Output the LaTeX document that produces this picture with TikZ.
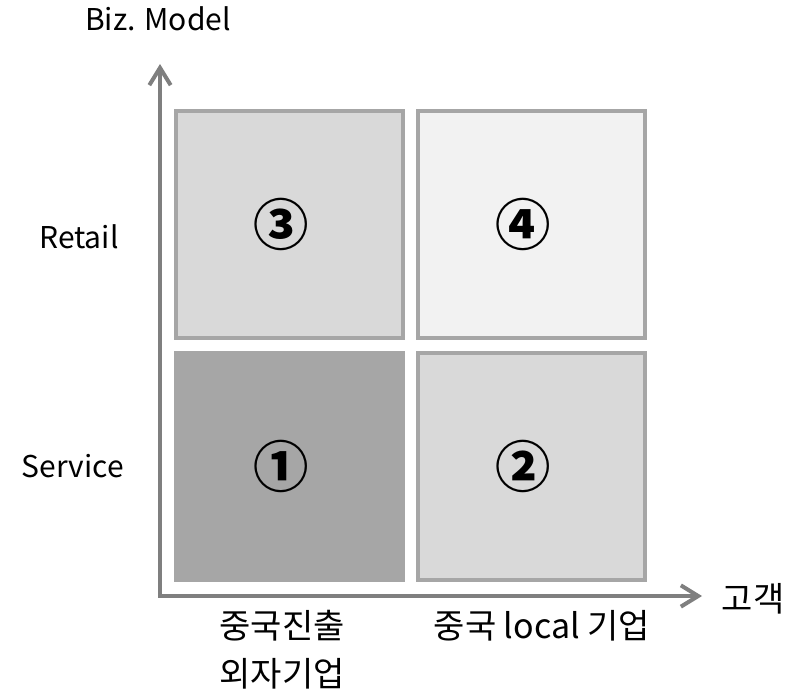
\documentclass[tikz,border=0pt]{standalone}
\usepackage{fontspec}
\setmainfont{Noto Sans CJK KR}
\usetikzlibrary{arrows.meta,positioning}

\definecolor{axisgray}{HTML}{7F7F7F}
\definecolor{edgegray}{HTML}{A6A6A6}
\definecolor{darkcell}{HTML}{A6A6A6}
\definecolor{midcell}{HTML}{D9D9D9}
\definecolor{lightcell}{HTML}{F2F2F2}

\tikzset{
  cell/.style={draw=edgegray, line width=3pt, minimum width=170.25pt,
    minimum height=170.25pt, inner sep=0pt},
  txt/.style={font=\fontsize{22.5}{27}\selectfont, inner sep=0pt, anchor=base},
  kortxt/.style={txt, font=\fontsize{25.5}{30}\selectfont},
  num/.style={font=\fontsize{41.5}{44}\selectfont\bfseries, inner sep=0pt},
  axis/.style={draw=axisgray, line width=3pt,
    {Straight Barb[length=13pt,width=16pt]}-{Straight Barb[length=13pt,width=16pt]}}
}

\begin{document}
\begin{tikzpicture}[x=0.75pt,y=-0.75pt]
  \useasboundingbox (0,0) rectangle (798,693);

  % the four quadrants
  \node[cell, fill=darkcell, draw=darkcell] (q1) at (289.5,466.5) {};
  \node[cell, fill=midcell, right=8.25pt of q1] (q2) {};
  \node[cell, fill=midcell, above=8.25pt of q1] (q3) {};
  \node[cell, fill=lightcell, right=8.25pt of q3] (q4) {};

  % circled numbers
  \foreach \q/\n in {q1/①,q2/②,q3/③,q4/④}
    \node[num] (n\q) at ([xshift=-6pt]\q.center) {\n};

  % axes
  \coordinate (origin) at (160,596);
  \coordinate (ytip) at (160,64);
  \coordinate (xtip) at (702,596);
  \draw[axis] (ytip) -- (origin) -- (xtip);

  % axis titles and ticks
  \node[txt] (ytitle) at (158,30) {Biz. Model};
  \node[kortxt] (xtitle) at (753,611) {고객};
  \node[txt] (retail) at (79,248) {Retail};
  \node[txt] (service) at (73,477) {Service};
  \node[kortxt] (foreign1) at (282,638) {중국진출};
  \node[kortxt] (foreign2) at (282,686) {외자기업};
  \node[kortxt] (local) at (542,638) {중국 local 기업};
\end{tikzpicture}
\end{document}
